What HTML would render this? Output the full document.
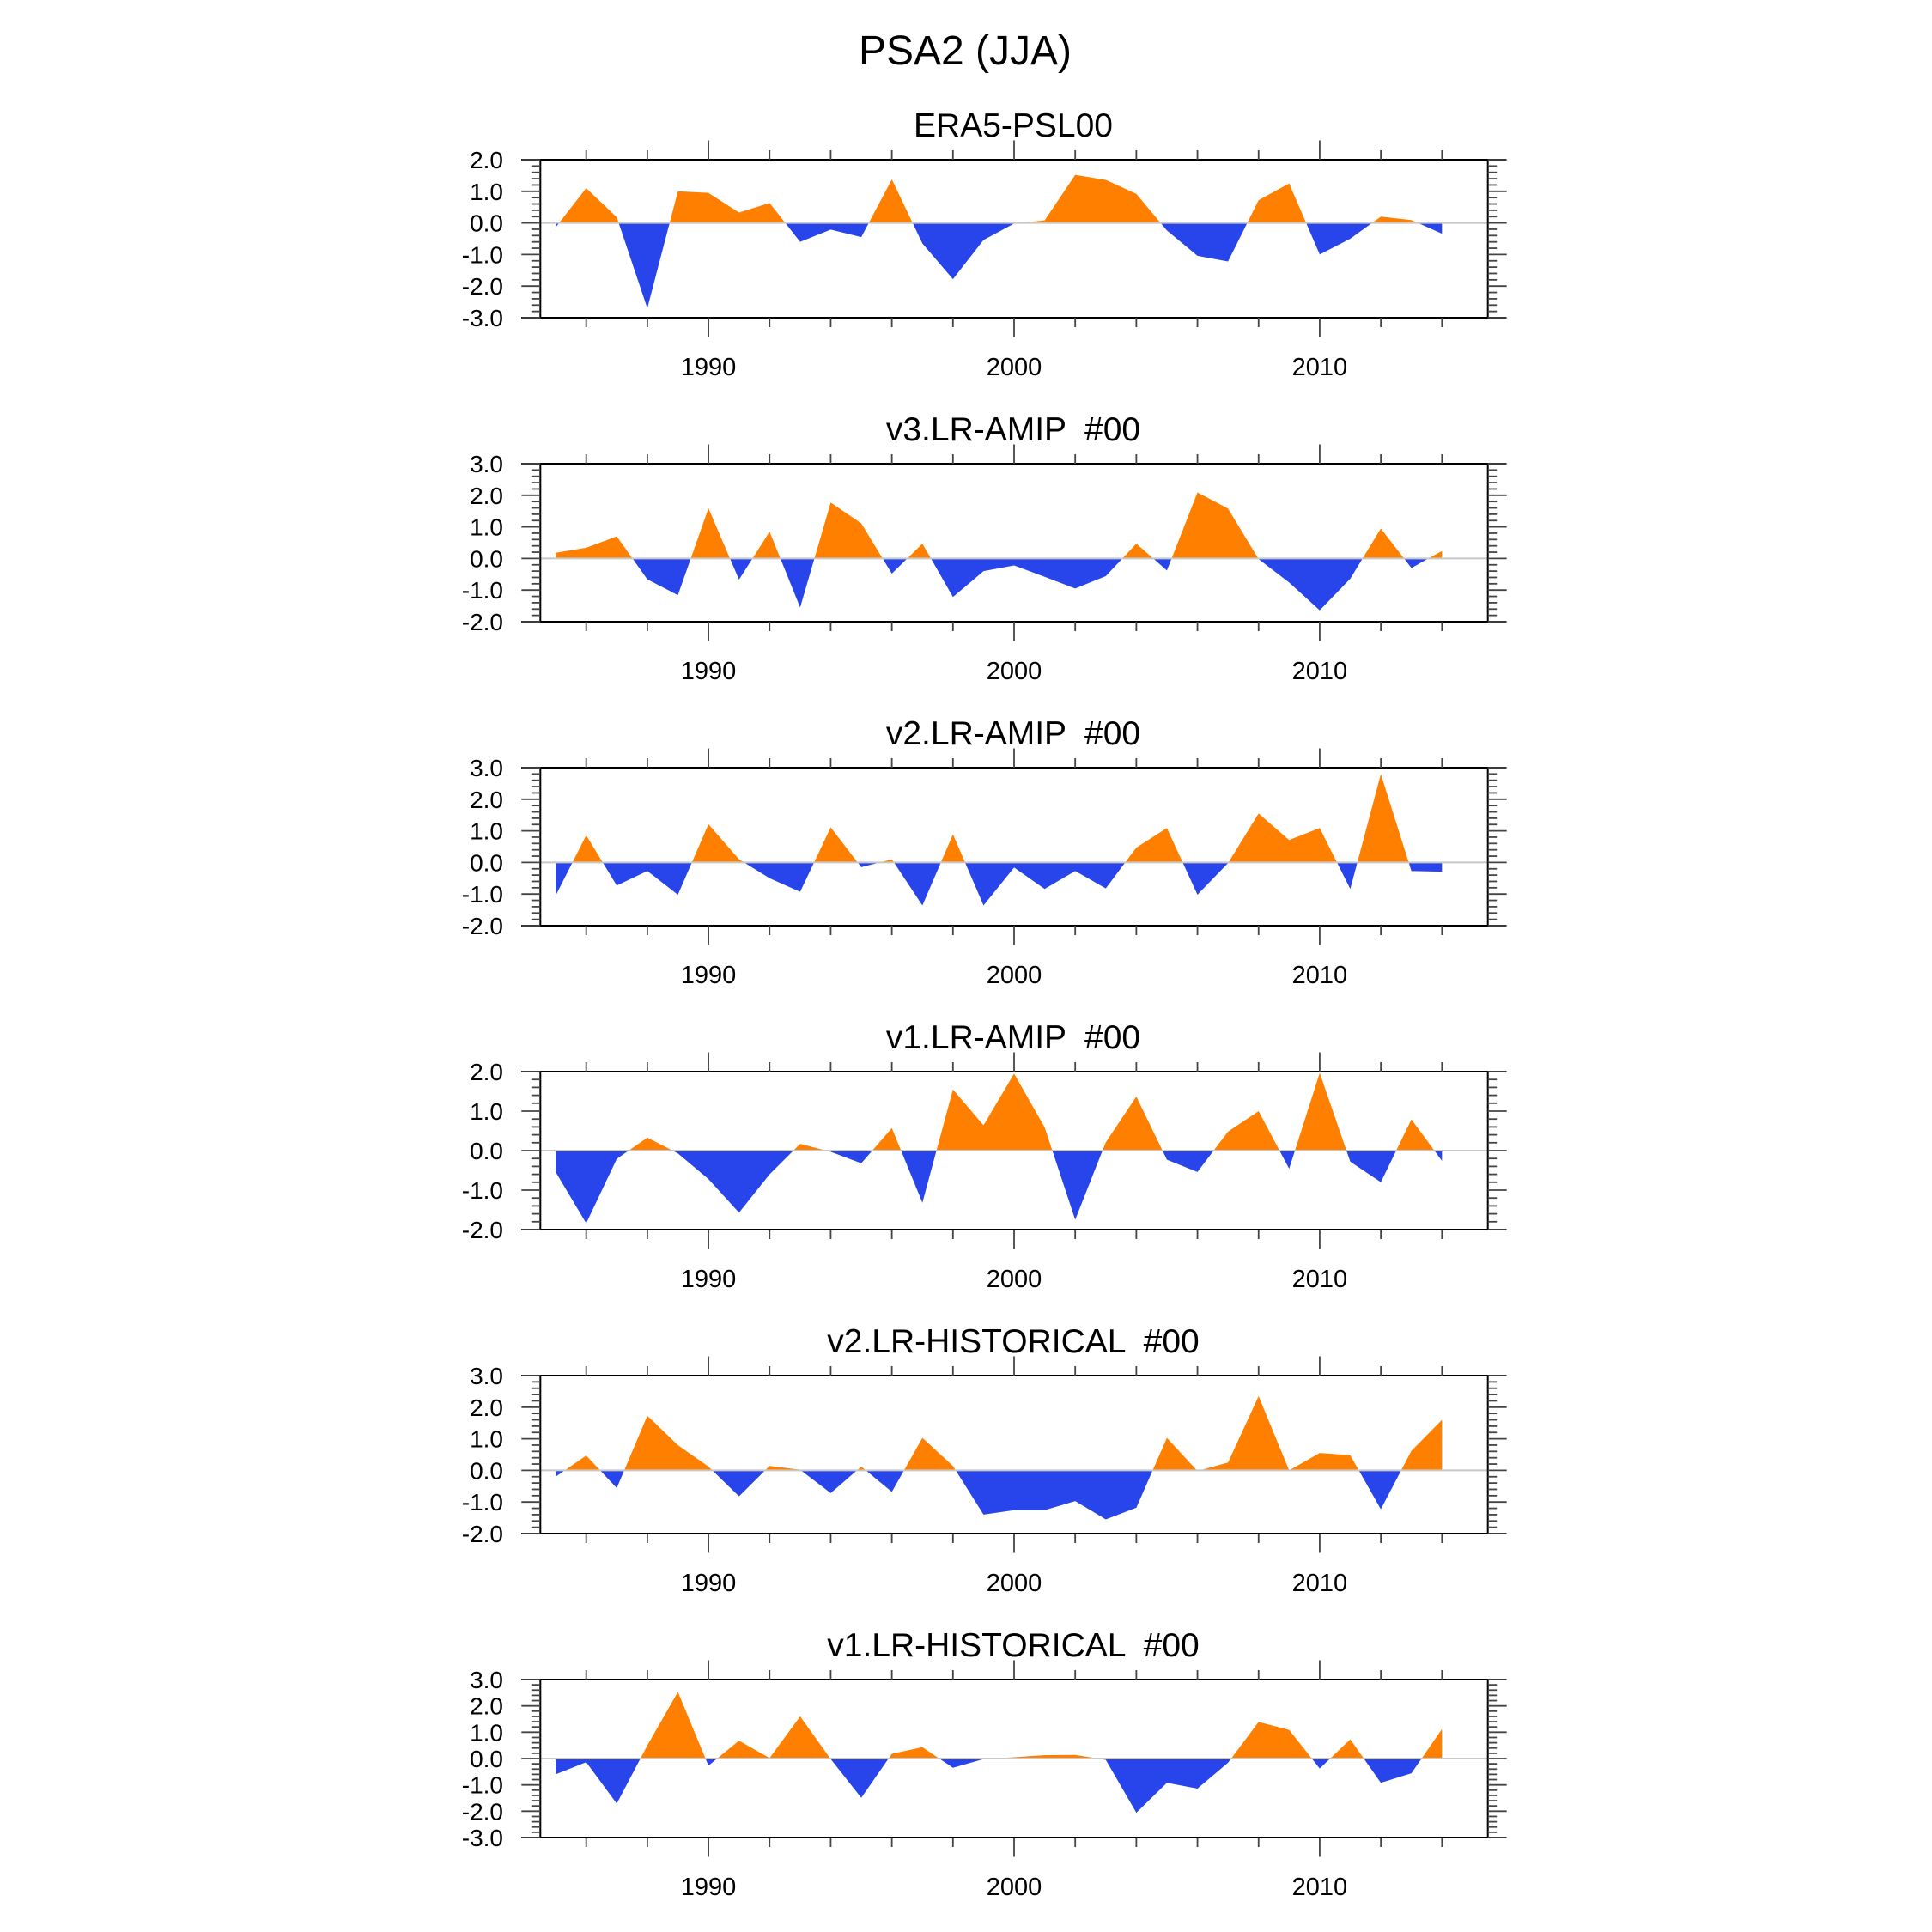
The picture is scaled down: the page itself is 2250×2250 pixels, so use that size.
<!DOCTYPE html>
<html><head><meta charset="utf-8"><style>
html,body{margin:0;padding:0;background:#fff}
svg{display:block;font-family:"Liberation Sans",sans-serif}
text{white-space:pre}
</style></head><body>
<svg id="fig" xmlns="http://www.w3.org/2000/svg" width="2250" height="2250" viewBox="0 0 2250 2250">
<rect width="2250" height="2250" fill="#fff"/>
<text x="1124" y="75" font-size="48" text-anchor="middle">PSA2 (JJA)</text>
</svg>
<script>
const years = [];
for (let y = 1985; y <= 2014; y++) years.push(y);
const titles = ["ERA5-PSL00","v3.LR-AMIP  #00","v2.LR-AMIP  #00","v1.LR-AMIP  #00","v2.LR-HISTORICAL  #00","v1.LR-HISTORICAL  #00"];
const yMaxs = [2,3,3,2,3,3];
const yMins = [-3,-2,-2,-2,-2,-3];
const xTickYears = [1986,1988,1990,1992,1994,1996,1998,2000,2002,2004,2006,2008,2010,2012,2014];
const xLabelYears = [1990,2000,2010];
const era5 = [-0.14,1.10,0.18,-2.7,1.0,0.95,0.33,0.63,-0.6,-0.21,-0.45,1.38,-0.65,-1.78,-0.54,-0.02,0.08,1.52,1.36,0.92,-0.24,-1.04,-1.22,0.72,1.25,-1.0,-0.5,0.2,0.09,-0.34];
const v3amip = [0.18,0.34,0.7,-0.66,-1.16,1.59,-0.67,0.85,-1.55,1.77,1.11,-0.48,0.47,-1.22,-0.4,-0.22,-0.58,-0.95,-0.56,0.47,-0.38,2.09,1.58,-0.02,-0.76,-1.64,-0.64,0.95,-0.3,0.24];
const v2amip = [-1.05,0.86,-0.73,-0.27,-1.02,1.21,0.1,-0.5,-0.93,1.11,-0.15,0.1,-1.36,0.89,-1.36,-0.16,-0.84,-0.27,-0.82,0.47,1.09,-1.02,-0.02,1.55,0.71,1.09,-0.84,2.8,-0.27,-0.29];
const v1amip = [-0.54,-1.84,-0.21,0.33,-0.07,-0.72,-1.57,-0.6,0.17,-0.03,-0.32,0.57,-1.32,1.55,0.64,1.95,0.59,-1.75,0.21,1.37,-0.23,-0.54,0.48,1.0,-0.46,1.97,-0.28,-0.8,0.79,-0.26];
const v2hist = [-0.2,0.47,-0.56,1.73,0.8,0.12,-0.82,0.14,0.02,-0.72,0.12,-0.68,1.03,0.14,-1.4,-1.26,-1.26,-0.97,-1.55,-1.18,1.03,-0.02,0.25,2.35,0.0,0.55,0.48,-1.23,0.62,1.6];
const v1hist = [-0.6,-0.14,-1.71,0.5,2.53,-0.27,0.68,0.02,1.6,-0.02,-1.49,0.18,0.43,-0.35,-0.02,0.05,0.13,0.14,-0.05,-2.06,-0.92,-1.14,-0.16,1.39,1.09,-0.38,0.73,-0.92,-0.56,1.12];
const series = [era5,v3amip,v2amip,v1amip,v2hist,v1hist];

const NS = "http://www.w3.org/2000/svg";
const svg = document.getElementById("fig");
function mk(tag, attrs, parent){
  const e = document.createElementNS(NS, tag);
  for (const k in attrs) e.setAttribute(k, attrs[k]);
  (parent||svg).appendChild(e);
  return e;
}
const L = 629.3, R = 1732.7, X0 = 1984.5, X1 = 2015.5;
function xs(yr){ return L + (yr - X0) / (X1 - X0) * (R - L); }
const slugs = ["era5-psl00","v3-lr-amip","v2-lr-amip","v1-lr-amip","v2-lr-historical","v1-lr-historical"];

series.forEach((vals, p) => {
  const top = 186 + 354 * p, H = 184, bot = top + H;
  const ymax = yMaxs[p], ymin = yMins[p];
  function ys(v){ return top + (ymax - v) / (ymax - ymin) * H; }
  const g = mk("g", {});
  
  

  const t = mk("text", {x:1180, y:top-27, "font-size":39, "text-anchor":"middle"}, g);
  
  
  t.textContent = titles[p];

  const z = ys(0);
  const cidA = "ca" + p, cidB = "cb" + p;
  const defs = mk("defs", {}, g);
  const c1 = mk("clipPath", {id:cidA}, defs);
  mk("rect", {x:L, y:top, width:R-L, height:z-top}, c1);
  const c2 = mk("clipPath", {id:cidB}, defs);
  mk("rect", {x:L, y:z, width:R-L, height:bot-z}, c2);
  let pts = xs(years[0]).toFixed(2) + "," + z.toFixed(2) + " ";
  vals.forEach((v, i) => { pts += xs(years[i]).toFixed(2) + "," + ys(v).toFixed(2) + " "; });
  pts += xs(years[years.length-1]).toFixed(2) + "," + z.toFixed(2);
  const pos = mk("polygon", {points:pts, fill:"#ff8000", "clip-path":"url(#"+cidA+")"}, g);
  
  
  const neg = mk("polygon", {points:pts, fill:"#2845eb", "clip-path":"url(#"+cidB+")"}, g);
  
  
  const zl = mk("line", {x1:L, x2:R, y1:z, y2:z, stroke:"#c8c8c8", "stroke-width":2}, g);
  
  

  const fr = mk("g", {stroke:"#000", "stroke-width":2}, g);
  
  
  mk("line", {x1:607, x2:1754, y1:top, y2:top}, fr);
  mk("line", {x1:607, x2:1754, y1:bot, y2:bot}, fr);
  mk("line", {x1:L, x2:L, y1:top, y2:bot}, fr);
  mk("line", {x1:R, x2:R, y1:top, y2:bot}, fr);

  const tk = mk("g", {stroke:"#444", "stroke-width":1.8}, g);
  
  
  const nMinor = Math.round((ymax - ymin) / 0.2);
  for (let k = 0; k <= nMinor; k++) {
    const v = ymin + k * 0.2;
    const yy = ys(v);
    const major = k % 5 === 0;
    const len = major ? 22 : 10.5;
    mk("line", {x1:L-len, x2:L, y1:yy, y2:yy}, tk);
    mk("line", {x1:R, x2:R+len, y1:yy, y2:yy}, tk);
  }
  for (let v = ymin; v <= ymax; v++) {
    const lab = mk("text", {x:586, y:ys(v)+10, "font-size":28, "text-anchor":"end"}, g);
    
    
    lab.textContent = v.toFixed(1);
  }
  const xt = mk("g", {stroke:"#444", "stroke-width":1.8}, g);
  
  
  xTickYears.forEach(yr => {
    const len = (yr % 10 === 0) ? 22.5 : 11;
    const xx = xs(yr);
    mk("line", {x1:xx, x2:xx, y1:top-len, y2:top}, xt);
    mk("line", {x1:xx, x2:xx, y1:bot, y2:bot+len}, xt);
  });
  xLabelYears.forEach(yr => {
    const lab = mk("text", {x:xs(yr), y:top+251, "font-size":29, "text-anchor":"middle"}, g);
    
    
    lab.textContent = String(yr);
  });
});
</script>
</body></html>
